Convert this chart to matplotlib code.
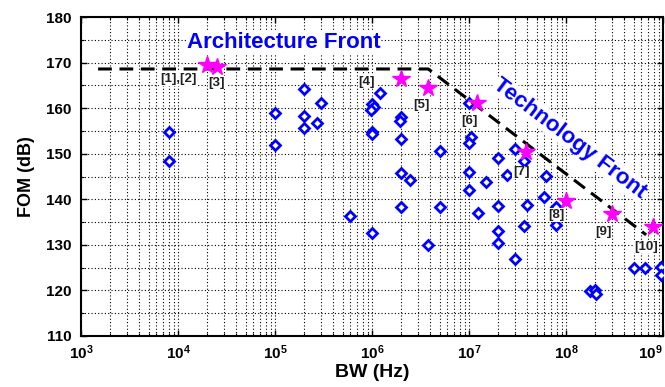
import matplotlib
matplotlib.use("Agg")
import matplotlib.pyplot as plt
from matplotlib.ticker import LogLocator, MultipleLocator, NullFormatter

plt.rcParams['font.family'] = ['Liberation Sans', 'DejaVu Sans']
plt.rcParams['font.weight'] = 'bold'
plt.rcParams['mathtext.fontset'] = 'custom'
plt.rcParams['mathtext.rm'] = 'Liberation Sans:bold'
plt.rcParams['mathtext.bf'] = 'Liberation Sans:bold'

# published ADCs (diamonds)
bw_pub = [8e3, 8e3, 1e5, 1e5, 2e5, 2e5, 2e5, 2.7e5, 3e5, 5.9e5,
          1e6, 1.05e6, 0.98e6, 1e6, 1e6, 1.2e6, 1e6,
          2e6, 1.95e6, 2e6, 2e6, 2.45e6, 2e6, 3.75e6, 5e6, 5e6,
          1e7, 1.05e7, 1e7, 1e7, 1e7, 1.25e7, 1.5e7,
          2e7, 2.45e7, 2e7, 2e7, 2e7, 3e7, 3e7,
          3.7e7, 4e7, 3.7e7, 6.2e7, 6e7, 7.8e7, 7.8e7,
          1.75e8, 2e8, 2.05e8, 5e8, 6.5e8, 9.6e8, 9.6e8]
fom_pub = [154.8, 148.3, 159.0, 151.9, 164.2, 158.3, 155.6, 156.7, 161.1, 136.3,
           161.0, 160.2, 159.6, 154.8, 154.3, 163.3, 132.5,
           158.1, 157.2, 153.3, 145.7, 144.2, 138.4, 130.0, 150.5, 138.2,
           161.1, 153.7, 152.3, 146.0, 142.0, 137.1, 143.8,
           149.0, 145.3, 138.5, 133.0, 130.5, 151.0, 126.8,
           148.3, 138.7, 134.2, 145.2, 140.6, 138.3, 134.4,
           119.9, 120.2, 119.3, 124.9, 124.9, 125.1, 123.4]

# state of the art (stars)
bw_best = [2e4, 2.5e4, 2e6, 3.75e6, 1.2e7, 3.9e7, 1e8, 3e8, 7.8e8]
fom_best = [169.5, 169.1, 166.4, 164.4, 161.1, 150.3, 139.7, 136.8, 134.0]

# front line
bw_front = [1.5e3, 3.8e6, 6.7e8]
fom_front = [168.6, 168.6, 132.2]

# reference labels
ref_labels = ['[1],[2]', '[3]', '[4]', '[5]', '[6]', '[7]', '[8]', '[9]', '[10]']
ref_bw = [1e4, 2.52e4, 8.8e5, 3.25e6, 1e7, 3.44e7, 7.9e7, 2.43e8, 6.7e8]
ref_fom = [166.4, 165.6, 165.8, 160.7, 157.2, 145.9, 136.55, 132.9, 129.6]

x_exp = [3, 4, 5, 6, 7, 8, 9]

fig = plt.figure(figsize=(6.65, 3.87), dpi=100)
ax = fig.add_axes([0.1218, 0.1318, 0.8752, 0.8242])

ax.plot(bw_pub, fom_pub, linestyle='none', marker='D', markersize=5.5,
        markerfacecolor='white', markeredgecolor='#0000ff', markeredgewidth=2, zorder=3)
ax.plot(bw_front, fom_front, color='black', linestyle=(0, (4.5, 2.5)), linewidth=2.2, zorder=4)
ax.plot(bw_best, fom_best, linestyle='none', marker='*', markersize=13,
        color='#ff00ff', zorder=5)

for lab, x, y in zip(ref_labels, ref_bw, ref_fom):
    ax.text(x, y, lab, ha='center', va='center', fontsize=9.5, color='#202020',
            bbox=dict(facecolor='white', edgecolor='none', pad=0.5), zorder=6)

ax.text(1.24e4, 173.2, 'Architecture Front', color='#0000ff', fontsize=16,
        ha='left', va='baseline', zorder=6,
        bbox=dict(facecolor='white', edgecolor='none', pad=0.5))
ax.text(1.1e8, 153.4, 'Technology Front', color='#0000ff', fontsize=16,
        ha='center', va='center', rotation=-37, rotation_mode='anchor', zorder=6,
        bbox=dict(facecolor='white', edgecolor='none', pad=0.5))

ax.set_xscale('log')
ax.set_xlim(1e3, 1e9)
ax.set_ylim(110, 180)
ax.set_xticks([10.0 ** k for k in x_exp])
ax.set_xticklabels([r'$\mathbf{10^{%d}}$' % k for k in x_exp])
ax.xaxis.set_minor_locator(LogLocator(base=10, subs=range(2, 10), numticks=100))
ax.xaxis.set_minor_formatter(NullFormatter())
ax.yaxis.set_major_locator(MultipleLocator(10))
ax.yaxis.set_minor_locator(MultipleLocator(5))
ax.get_xticklabels()[-1].set_ha('right')

ax.grid(True, which='both', color='black', linestyle=(0, (1, 2)), linewidth=0.8)
ax.set_axisbelow(True)
ax.tick_params(which='both', direction='in', top=True, right=True, labelsize=11)
ax.tick_params(axis='y', pad=7)
ax.tick_params(axis='x', pad=5)
ax.tick_params(which='major', length=4, width=1)
ax.tick_params(which='minor', length=2, width=0.8)
for s in ax.spines.values():
    s.set_linewidth(1.5)

ax.set_xlabel('BW (Hz)', fontsize=14, fontweight='bold', labelpad=2)
ax.set_ylabel('FOM (dB)', fontsize=13, fontweight='bold', labelpad=8)

fig.savefig('out.png', dpi=100)
